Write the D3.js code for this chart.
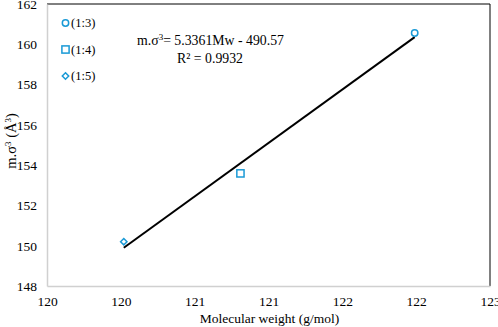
<!DOCTYPE html>
<html>
<head>
<meta charset="utf-8">
<script src="https://cdn.jsdelivr.net/npm/d3@7"></script>
<style>
  body { margin: 0; background: #fff; }
  svg { display: block; font-family: "Liberation Serif", "Times New Roman", serif; }
</style>
</head>
<body>
<svg id="chart"></svg>
<script>
const width = 498;
const height = 327;

// data
const seriesNames = ["(1:3)", "(1:4)", "(1:5)"];
const markerShapes = ["circle", "square", "diamond"];
const mwValues = [122.49, 121.31, 120.52];
const sigmaValues = [160.56, 153.59, 150.2];

const xTickValues = [120, 120.5, 121, 121.5, 122, 122.5, 123];
const xTickLabels = ["120", "120", "121", "121", "122", "122", "123"];
const yTickValues = [148, 150, 152, 154, 156, 158, 160, 162];

const margin = { top: 4, right: 8, bottom: 41, left: 47 };
const innerW = width - margin.left - margin.right;
const innerH = height - margin.top - margin.bottom;
const markerColor = "#1a9ad6";

const svg = d3.select("#chart")
  .attr("width", width)
  .attr("height", height);

const x = d3.scaleLinear().domain([120, 123]).range([margin.left, margin.left + innerW]);
const y = d3.scaleLinear().domain([148, 162]).range([margin.top + innerH, margin.top]);

// frame: top and right black, left and bottom grey axes
svg.append("line")
  .attr("x1", x(120)).attr("x2", x(123))
  .attr("y1", y(162)).attr("y2", y(162))
  .attr("stroke", "#000").attr("stroke-width", 1);
svg.append("line")
  .attr("x1", x(123)).attr("x2", x(123))
  .attr("y1", y(162)).attr("y2", y(148))
  .attr("stroke", "#000").attr("stroke-width", 1);

const xAxis = d3.axisBottom(x)
  .tickValues(xTickValues)
  .tickFormat((d, i) => xTickLabels[i])
  .tickSize(0)
  .tickPadding(10);

const yAxis = d3.axisLeft(y)
  .tickValues(yTickValues)
  .tickFormat(d3.format("d"))
  .tickSize(0)
  .tickPadding(10);

svg.append("g")
  .attr("transform", `translate(0,${y(148)})`)
  .call(xAxis)
  .call(g => g.select(".domain").attr("stroke", "#d0d0d0").attr("stroke-width", 1.5))
  .call(g => g.selectAll("text").attr("font-size", 13.5).attr("fill", "#000").attr("font-family", "Liberation Serif"));

svg.append("g")
  .attr("transform", `translate(${x(120)},0)`)
  .call(yAxis)
  .call(g => g.select(".domain").attr("stroke", "#d0d0d0").attr("stroke-width", 1.5))
  .call(g => g.selectAll("text").attr("font-size", 13.5).attr("fill", "#000").attr("font-family", "Liberation Serif"));

// least squares trend line through the points
const meanX = d3.mean(mwValues);
const meanY = d3.mean(sigmaValues);
const slope = d3.sum(mwValues, (d, i) => (d - meanX) * (sigmaValues[i] - meanY)) /
  d3.sum(mwValues, d => (d - meanX) ** 2);
const intercept = meanY - slope * meanX;
const [xMin, xMax] = d3.extent(mwValues);

svg.append("line")
  .attr("x1", x(xMin)).attr("y1", y(slope * xMin + intercept))
  .attr("x2", x(xMax)).attr("y2", y(slope * xMax + intercept))
  .attr("stroke", "#000")
  .attr("stroke-width", 2);

function drawMarker(g, shape, cx, cy) {
  if (shape === "circle") {
    g.append("circle").attr("cx", cx).attr("cy", cy).attr("r", 3.2);
  } else if (shape === "square") {
    g.append("rect").attr("x", cx - 3.6).attr("y", cy - 3.6).attr("width", 7.2).attr("height", 7.2);
  } else {
    g.append("path").attr("d", `M${cx},${cy - 3.2}L${cx + 3.2},${cy}L${cx},${cy + 3.2}L${cx - 3.2},${cy}Z`);
  }
}

const marks = svg.append("g")
  .attr("fill", "#fff")
  .attr("stroke", markerColor)
  .attr("stroke-width", 1.5);

mwValues.forEach((d, i) => drawMarker(marks, markerShapes[i], x(d), y(sigmaValues[i])));

// legend
const legend = svg.append("g");
seriesNames.forEach((name, i) => {
  const ly = 23 + i * 26.5;
  const lg = legend.append("g")
    .attr("fill", "#fff")
    .attr("stroke", markerColor)
    .attr("stroke-width", 1.5);
  drawMarker(lg, markerShapes[i], 65.5, ly);
  legend.append("text")
    .attr("x", 71)
    .attr("y", ly + 4)
    .attr("font-size", 12.5)
    .text(name);
});

// equation
const eq = svg.append("text")
  .attr("x", 137)
  .attr("y", 45)
  .attr("font-size", 13.8);
eq.append("tspan").text("m.σ");
eq.append("tspan").attr("font-size", 9).attr("dy", -5).text("3");
eq.append("tspan").attr("dy", 5).text("= 5.3361Mw - 490.57");

svg.append("text")
  .attr("x", 243)
  .attr("y", 63)
  .attr("text-anchor", "end")
  .attr("font-size", 13.8)
  .text("R² = 0.9932");

// axis titles
svg.append("text")
  .attr("x", x(121.5) + 1)
  .attr("y", 323)
  .attr("text-anchor", "middle")
  .attr("font-size", 13.5)
  .text("Molecular weight (g/mol)");

const yTitle = svg.append("text")
  .attr("transform", `translate(16,${y(155.2)}) rotate(-90)`)
  .attr("text-anchor", "middle")
  .attr("font-size", 14.5);
yTitle.append("tspan").text("m.σ");
yTitle.append("tspan").attr("font-size", 9).attr("dy", -5).text("3");
yTitle.append("tspan").attr("dy", 5).text(" (Å");
yTitle.append("tspan").attr("font-size", 9).attr("dy", -5).text("3");
yTitle.append("tspan").attr("dy", 5).text(")");
</script>
</body>
</html>
